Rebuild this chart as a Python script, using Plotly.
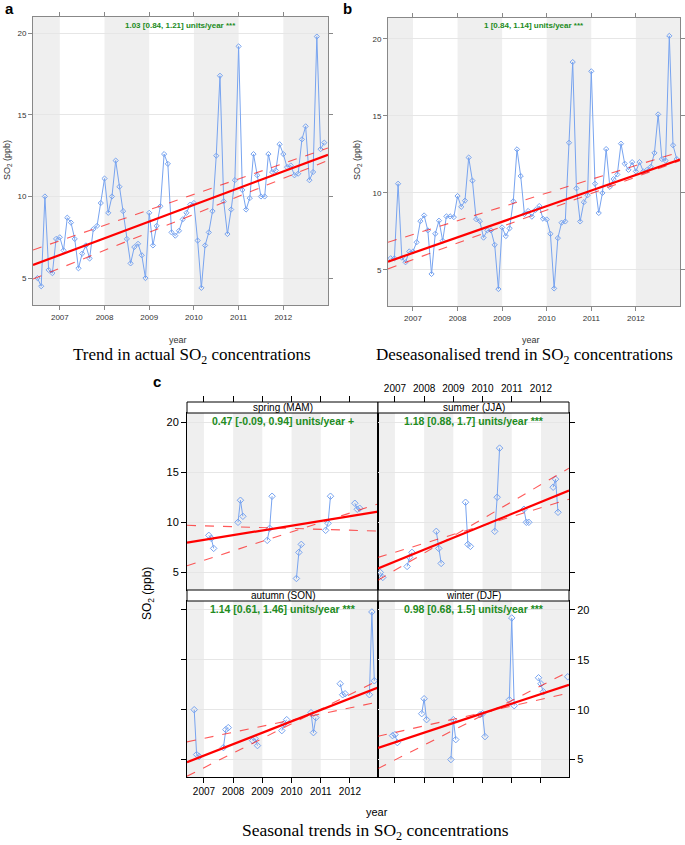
import plotly.graph_objects as go

# ---------------- DATA ----------------
START_YEAR, START_MONTH = 2006, 7   # first monthly value (Jul 2006)

# (a) actual monthly SO2 (ppb), Jul 2006 .. Dec 2012
so2_actual = [5.0, 4.5, 10.0, 5.5, 5.3, 7.4, 7.5, 6.7, 8.7, 8.4, 7.4, 5.6,
              6.5, 7.0, 6.2, 8.0, 8.2, 9.6, 11.1, 9.0, 10.0, 12.2, 10.6, 9.1,
              7.4, 5.9, 6.9, 7.1, 6.4, 5.0, 9.0, 7.0, 8.2, 9.4, 12.6, 12.0,
              7.8, 7.6, 7.9, 8.6, 9.0, 9.5, 9.6, 7.3, 4.4, 7.0, 7.8, 9.1,
              12.5, 17.4, 9.7, 7.7, 9.2, 11.0, 19.2, 10.4, 9.2, 9.9, 12.6, 11.3,
              10.0, 10.0, 12.6, 11.5, 11.6, 13.2, 12.6, 11.8, 11.9, 11.3, 11.4, 13.5,
              14.3, 11.0, 11.5, 19.8, 12.9, 13.3]

# (b) deseasonalised monthly SO2 (ppb)
so2_deseason = [5.76, 5.75, 10.6, 5.8, 5.5, 6.2, 6.2, 6.8, 8.17, 8.54, 7.57, 4.74,
                7.35, 8.2, 6.9, 8.48, 8.48, 8.43, 9.8, 9.1, 9.5, 12.3, 10.8, 8.3,
                8.17, 7.1, 7.57, 7.57, 6.63, 3.76, 7.76, 7.2, 7.7, 9.46, 12.83, 11.1,
                8.63, 8.83, 8.46, 8.9, 9.15, 8.33, 8.28, 7.35, 3.8, 7.07, 8.07, 8.15,
                13.26, 18.5, 10.3, 8.15, 9.4, 9.85, 17.9, 10.6, 8.7, 10.0, 12.85, 10.4,
                10.9, 11.2, 13.2, 11.9, 11.5, 12.0, 11.4, 12.0, 11.4, 11.5, 11.7, 12.6,
                15.1, 12.2, 12.1, 20.2, 13.1, 12.2]

year_ticks = [2007, 2008, 2009, 2010, 2011, 2012]
so2_ticks = [5, 10, 15, 20]
shade_years = [(2006, 2007), (2008, 2009), (2010, 2011), (2012, 2013)]

# Theil-Sen trend lines: value at left edge, value at right edge
trend_a = {"main": (5.8, 12.56), "lo": (6.72, 12.97), "hi": (4.94, 12.21)}
trend_b = {"main": (5.54, 12.17), "lo": (6.8, 12.67), "hi": (5.07, 12.1)}
label_a = "1.03 [0.84, 1.21] units/year ***"
label_b = "1 [0.84, 1.14] units/year ***"

seasons = ["spring (MAM)", "summer (JJA)", "autumn (SON)", "winter (DJF)"]
season_months = [[3, 4, 5], [6, 7, 8], [9, 10, 11], [12, 1, 2]]
season_labels = ["0.47 [-0.09, 0.94] units/year +",
                 "1.18 [0.88, 1.7] units/year ***",
                 "1.14 [0.61, 1.46] units/year ***",
                 "0.98 [0.68, 1.5] units/year ***"]
season_trends = [
    {"main": (7.97, 11.07), "lo": (9.7, 9.13), "hi": (5.67, 11.83)},
    {"main": (5.4, 13.17), "lo": (6.5, 12.3), "hi": (4.23, 15.4)},
    {"main": (4.73, 12.23), "lo": (6.77, 10.77), "hi": (3.33, 12.93)},
    {"main": (6.17, 12.5), "lo": (7.33, 11.67), "hi": (4.1, 13.83)},
]

# ---------------- LAYOUT HELPERS ----------------
W, H = 685, 845
def px(x): return min(1.0, max(0.0, x / W))
def py(y): return min(1.0, max(0.0, 1 - y / H))

BLUE = "#78a4f0"
GREEN = "#228b22"
SANS = "Liberation Sans, Arial, sans-serif"
SERIF = "Liberation Serif, Times New Roman, serif"

# monthly decimal-year x values
months = []
for i in range(len(so2_actual)):
    m0 = START_MONTH - 1 + i
    months.append((START_YEAR + m0 // 12, m0 % 12 + 1))
xdec = [y + (m - 1) / 12 for (y, m) in months]

fig = go.Figure()
shapes = []
annotations = []

def add_bands(xn, yn, xr):
    for a0, a1 in shade_years:
        shapes.append(dict(type="rect", xref=xn, yref=yn + " domain",
                           x0=max(a0, xr[0]), x1=min(a1, xr[1]), y0=0, y1=1,
                           fillcolor="#efefef", line=dict(width=0), layer="below"))

def add_trend(xn, yn, xr, tr):
    for key in ["lo", "hi"]:
        fig.add_trace(go.Scatter(x=list(xr), y=list(tr[key]), mode="lines",
                                 xaxis=xn, yaxis=yn, hoverinfo="skip", showlegend=False,
                                 line=dict(color="rgba(255,0,0,0.65)", width=1.1, dash="dash")))
    fig.add_trace(go.Scatter(x=list(xr), y=list(tr["main"]), mode="lines",
                             xaxis=xn, yaxis=yn, hoverinfo="skip", showlegend=False,
                             line=dict(color="#ff0000", width=2.2)))

# ---------------- PANELS a, b ----------------
ab = [
    dict(xn="x", yn="y", vals=so2_actual, tr=trend_a, lab=label_a,
         xr=(2006.4, 2013.0), yr=(3.35, 21.0), xd=(33, 328), yd=(17, 305)),
    dict(xn="x2", yn="y2", vals=so2_deseason, tr=trend_b, lab=label_b,
         xr=(2006.44, 2012.99), yr=(2.66, 21.36), xd=(388, 680), yd=(18, 306)),
]
for k, p in enumerate(ab):
    add_bands(p["xn"], p["yn"], p["xr"])
    fig.add_trace(go.Scatter(x=xdec, y=p["vals"], mode="lines+markers",
                             xaxis=p["xn"], yaxis=p["yn"], showlegend=False,
                             line=dict(color=BLUE, width=1),
                             marker=dict(symbol="diamond-open", size=4, color=BLUE,
                                         line=dict(width=1))))
    add_trend(p["xn"], p["yn"], p["xr"], p["tr"])
    sfx = "" if k == 0 else "2"
    fig.update_layout(**{
        "xaxis" + sfx: dict(domain=[px(p["xd"][0]), px(p["xd"][1])], range=list(p["xr"]),
                            anchor=p["yn"], tickvals=year_ticks, ticks="outside", ticklen=4,
                            tickcolor="#888", showline=True, linecolor="#888", mirror="ticks",
                            showgrid=False, zeroline=False,
                            tickfont=dict(size=8, color="#333", family=SANS)),
        "yaxis" + sfx: dict(domain=[py(p["yd"][1]), py(p["yd"][0])], range=list(p["yr"]),
                            anchor=p["xn"], tickvals=so2_ticks, ticks="outside", ticklen=4,
                            tickcolor="#888", showline=True, linecolor="#888", mirror="ticks",
                            showgrid=True, gridcolor="#e6e6e6", gridwidth=1, zeroline=False,
                            tickfont=dict(size=8, color="#333", family=SANS)),
    })
    cx = (p["xd"][0] + p["xd"][1]) / 2
    annotations.append(dict(text="<b>" + p["lab"] + "</b>", x=px(cx), y=py(25),
                            font=dict(size=8, color=GREEN, family=SANS)))

annotations += [
    dict(text="<b>a</b>", x=px(9), y=py(9), font=dict(size=15, family=SANS, color="black")),
    dict(text="<b>b</b>", x=px(348), y=py(9), font=dict(size=15, family=SANS, color="black")),
    dict(text="<b>c</b>", x=px(157), y=py(381), font=dict(size=15, family=SANS, color="black")),
    dict(text="SO<sub>2</sub> (ppb)", x=px(8), y=py(160), textangle=-90,
         font=dict(size=9, family=SANS, color="#333")),
    dict(text="SO<sub>2</sub> (ppb)", x=px(358), y=py(160), textangle=-90,
         font=dict(size=9, family=SANS, color="#333")),
    dict(text="year", x=px(178), y=py(340), font=dict(size=9, family=SANS, color="#333")),
    dict(text="year", x=px(531), y=py(340), font=dict(size=9, family=SANS, color="#333")),
    dict(text="Trend in actual SO<sub>2</sub> concentrations", x=px(192), y=py(356),
         font=dict(size=17, family=SERIF, color="black")),
    dict(text="Deseasonalised trend in SO<sub>2</sub> concentrations", x=px(524), y=py(356),
         font=dict(size=17, family=SERIF, color="black")),
    dict(text="SO<sub>2</sub> (ppb)", x=px(148), y=py(594), textangle=-90,
         font=dict(size=12, family=SANS, color="black")),
    dict(text="year", x=px(377), y=py(812), font=dict(size=11, family=SANS, color="black")),
    dict(text="Seasonal trends in SO<sub>2</sub> concentrations", x=px(375), y=py(831),
         font=dict(size=17.5, family=SERIF, color="black")),
]

# ---------------- PANEL c (seasonal) ----------------
c_xr = (2006.42, 2012.96)
c_yr = (3.25, 20.9)
# (xd, yd, strip y, x side, x labels, y side, y labels)
c_layout = [
    ((187, 378), (413, 590), (402, 413), "top", False, "left", True),
    ((378, 569), (413, 590), (402, 413), "top", True, "right", False),
    ((187, 378), (601, 777), (590, 601), "bottom", True, "left", False),
    ((378, 569), (601, 777), (590, 601), "bottom", False, "right", True),
]
for s in range(4):
    xd, yd, sd, xside, xlab, yside, ylab = c_layout[s]
    n = s + 3
    xn, yn = "x%d" % n, "y%d" % n
    add_bands(xn, yn, c_xr)
    # group seasonal points by season-year, break lines between groups
    xs, ys, prev = [], [], None
    for (yy, mm), xv, v in zip(months, xdec, so2_actual):
        if mm in season_months[s]:
            grp = yy + 1 if mm == 12 else yy
            if prev is not None and grp != prev:
                xs.append(None); ys.append(None)
            xs.append(xv); ys.append(v); prev = grp
    fig.add_trace(go.Scatter(x=xs, y=ys, mode="lines+markers", xaxis=xn, yaxis=yn,
                             showlegend=False, connectgaps=False,
                             line=dict(color=BLUE, width=1),
                             marker=dict(symbol="diamond-open", size=5, color=BLUE,
                                         line=dict(width=1))))
    add_trend(xn, yn, c_xr, season_trends[s])
    # top x-axes: ticks run under the strip and poke out above it
    xtl = (sd[1] - sd[0]) + 5 if xside == "top" else 5
    fig.update_layout(**{
        "xaxis%d" % n: dict(domain=[px(xd[0]), px(xd[1])], range=list(c_xr), anchor=yn,
                            side=xside, showticklabels=xlab, tickvals=year_ticks,
                            ticks="outside", ticklen=xtl, tickcolor="black",
                            showline=True, linecolor="black", mirror=True,
                            showgrid=False, zeroline=False,
                            tickfont=dict(size=10, color="black", family=SANS)),
        "yaxis%d" % n: dict(domain=[py(yd[1]), py(yd[0])], range=list(c_yr), anchor=xn,
                            side=yside, showticklabels=ylab, tickvals=so2_ticks,
                            ticks="outside", ticklen=5, tickcolor="black",
                            showline=True, linecolor="black", mirror=True,
                            showgrid=True, gridcolor="#e6e6e6", zeroline=False,
                            tickfont=dict(size=11, color="black", family=SANS)),
    })
    shapes.append(dict(type="rect", xref="paper", yref="paper",
                       x0=px(xd[0]), x1=px(xd[1]), y0=py(sd[1]), y1=py(sd[0]),
                       fillcolor="white", line=dict(color="black", width=1), layer="above"))
    cx = (xd[0] + xd[1]) / 2
    annotations.append(dict(text=seasons[s], x=px(cx), y=py((sd[0] + sd[1]) / 2),
                            font=dict(size=10, family=SANS, color="black")))
    annotations.append(dict(text="<b>" + season_labels[s] + "</b>", x=px(cx), y=py(yd[0] + 8),
                            font=dict(size=10.5, family=SANS, color=GREEN)))

for a in annotations:
    a.setdefault("xref", "paper")
    a.setdefault("yref", "paper")
    a.setdefault("showarrow", False)
    a.setdefault("xanchor", "center")
    a.setdefault("yanchor", "middle")

fig.update_layout(width=W, height=H, margin=dict(l=0, r=0, t=0, b=0),
                  paper_bgcolor="white", plot_bgcolor="white",
                  shapes=shapes, annotations=annotations, showlegend=False)

fig.write_html("out.html", config={"displayModeBar": False},
               post_script="document.body.style.margin='0px';document.body.style.padding='0px';")
